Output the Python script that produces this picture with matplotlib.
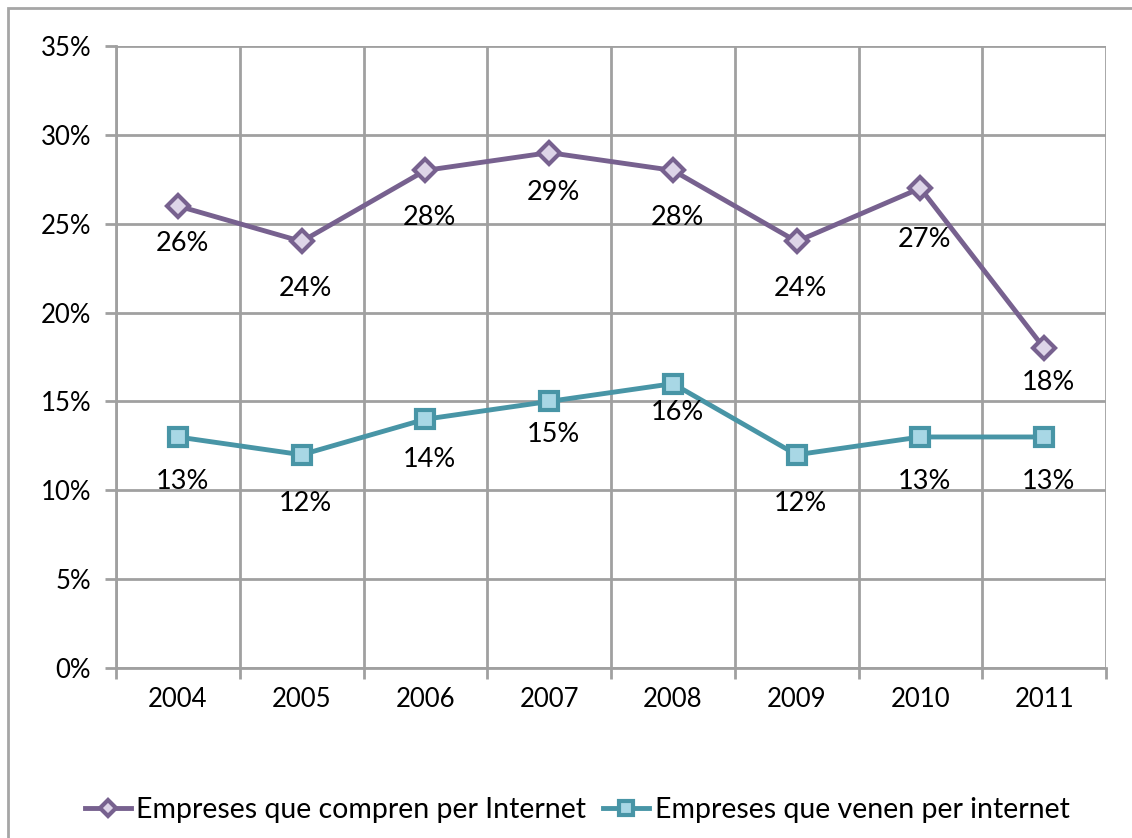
import matplotlib

matplotlib.use("Agg")
import matplotlib.pyplot as plt
from matplotlib.patches import Rectangle
from matplotlib.ticker import FixedLocator, FuncFormatter

years = ["2004", "2005", "2006", "2007", "2008", "2009", "2010", "2011"]
compren = [26, 24, 28, 29, 28, 24, 27, 18]
venen = [13, 12, 14, 15, 16, 12, 13, 13]
label_compren = "Empreses que compren per Internet"
label_venen = "Empreses que venen per internet"

# vertical offsets (points) of the value labels below each marker
dy_compren = [27, 34, 34, 29, 34, 34, 37, 25]
dy_venen = [32, 35, 29, 24, 21, 35, 32, 32]

GRID = "#a0a0a0"
PURPLE = "#77618f"
PURPLE_FILL = "#ddd4e8"
TEAL = "#4895a6"
TEAL_FILL = "#a8d7e5"

plt.rcParams["font.family"] = ["Lato", "DejaVu Sans"]

fig = plt.figure(figsize=(11.32, 8.38), dpi=100)
ax = fig.add_axes([116 / 1132, 1 - 668 / 838, (1106 - 116) / 1132, (668 - 46) / 838])

x = range(len(years))
ax.plot(x, compren, color=PURPLE, lw=3.5, marker="D", markersize=11,
        markerfacecolor=PURPLE_FILL, markeredgecolor=PURPLE, markeredgewidth=3,
        label=label_compren, zorder=3)
ax.plot(x, venen, color=TEAL, lw=3.5, marker="s", markersize=13,
        markerfacecolor=TEAL_FILL, markeredgecolor=TEAL, markeredgewidth=3,
        label=label_venen, zorder=3)

for xi, v, d in zip(x, compren, dy_compren):
    ax.annotate(f"{v}%", (xi, v), xytext=(3, -d), textcoords="offset points",
                ha="center", va="center", fontsize=19.5)
for xi, v, d in zip(x, venen, dy_venen):
    ax.annotate(f"{v}%", (xi, v), xytext=(3, -d), textcoords="offset points",
                ha="center", va="center", fontsize=19.5)

ax.set_xlim(-0.5, len(years) - 0.5)
ax.set_ylim(0, 35)
ax.set_xticks(list(x), years)
ax.xaxis.set_minor_locator(FixedLocator([i + 0.5 for i in range(-1, len(years))]))
ax.set_yticks(range(0, 36, 5))
ax.yaxis.set_major_formatter(FuncFormatter(lambda v, _: f"{v:.0f}%"))
ax.tick_params(axis="x", which="major", length=0, pad=14, labelsize=18.5)
ax.tick_params(axis="x", which="minor", length=8, width=2, color=GRID)
ax.tick_params(axis="y", length=8, width=2, color=GRID, pad=10, labelsize=18.5)

ax.grid(axis="y", color=GRID, lw=2)
ax.grid(axis="x", which="minor", color=GRID, lw=2)
ax.set_axisbelow(True)
for side in ["top", "right"]:
    ax.spines[side].set_visible(False)
for side in ["left", "bottom"]:
    ax.spines[side].set_color(GRID)
    ax.spines[side].set_linewidth(2)

# chart frame, open to the right and bottom edges
fig.patches.append(Rectangle((8 / 1132, -0.5), 2.0, 1.5 - 8 / 838, transform=fig.transFigure,
                             fill=False, edgecolor="#a6a6a6", lw=2))

fig.legend(loc="center", bbox_to_anchor=(0.51, 1 - 810 / 838), ncol=2, frameon=False,
           fontsize=20.5, handlelength=1.6, handletextpad=0.2, columnspacing=0.6,
           markerscale=0.75)

fig.savefig("out.png", dpi=100)
